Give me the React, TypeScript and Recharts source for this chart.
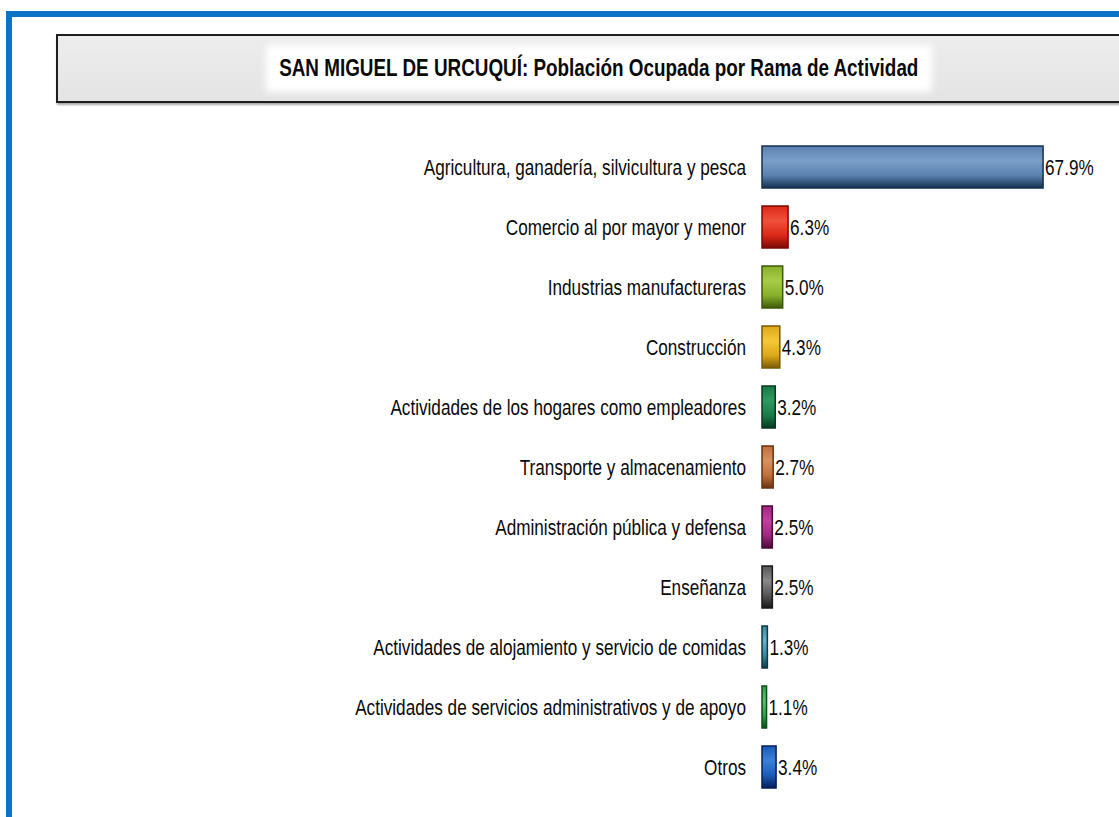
import { Bar, BarChart, Cell, LabelList, XAxis, YAxis } from "recharts"

const categories = [
  "Agricultura, ganadería, silvicultura y pesca",
  "Comercio al por mayor y menor",
  "Industrias manufactureras",
  "Construcción",
  "Actividades de los hogares como empleadores",
  "Transporte y almacenamiento",
  "Administración pública y defensa",
  "Enseñanza",
  "Actividades de alojamiento y servicio de comidas",
  "Actividades de servicios administrativos y de apoyo",
  "Otros",
]

const shares = [67.9, 6.3, 5.0, 4.3, 3.2, 2.7, 2.5, 2.5, 1.3, 1.1, 3.4]

// light, mid, dark for each bar's gradient
const barColors = [
  ["#7b9fc8", "#5a82b0", "#16304f"],
  ["#f0503a", "#dc2818", "#7a0a05"],
  ["#a8cc48", "#88b02a", "#3e5a0a"],
  ["#f5c838", "#dca81a", "#7a5a05"],
  ["#2e9a60", "#1a7a46", "#063a1e"],
  ["#d89060", "#c0703a", "#6a3210"],
  ["#c040a0", "#a02880", "#4a0a3a"],
  ["#8a8a8a", "#555555", "#1a1a1a"],
  ["#6ab0c8", "#3a88a0", "#0e3a4a"],
  ["#60c070", "#30a048", "#0a5018"],
  ["#3a80d8", "#1a5cb8", "#061e5a"],
]

const data = categories.map((name, i) => ({ name, value: shares[i] }))

const font = '"Liberation Sans", Arial, sans-serif'
const narrow = 0.78

const NarrowTick = (props: any) => {
  const { x, y, payload } = props
  return (
    <g transform={`translate(${x},${y}) scale(${narrow},1)`}>
      <text x={0} y={0} dy="0.36em" textAnchor="end" fill="#0a0a0a" fontSize={22} fontFamily={font}>
        {payload.value}
      </text>
    </g>
  )
}

const ValueLabel = (props: any) => {
  const { x, y, width, height, value } = props
  const tx = x + width + 2
  const ty = y + height / 2
  return (
    <g transform={`translate(${tx},${ty}) scale(${narrow},1)`}>
      <text x={0} y={0} dy="0.36em" textAnchor="start" fill="#0a0a0a" fontSize={22} fontFamily={font}>
        {`${Number(value).toFixed(1)}%`}
      </text>
    </g>
  )
}

export default function App() {
  return (
    <div
      style={{
        position: "absolute",
        left: 0,
        top: 0,
        width: 1119,
        height: 817,
        overflow: "hidden",
        background: "#fff",
      }}
    >
      <div
        style={{
          position: "absolute",
          left: 6,
          top: 11,
          width: 1200,
          height: 900,
          border: "6px solid #0b74c9",
          boxSizing: "border-box",
        }}
      />
      <div
        style={{
          position: "absolute",
          left: 56,
          top: 34,
          width: 1085,
          height: 69,
          border: "2px solid #1e1e1e",
          boxSizing: "border-box",
          background: "linear-gradient(#ededed, #e4e4e4)",
          boxShadow: "1px 2px 2px rgba(0,0,0,0.35)",
          display: "flex",
          alignItems: "center",
          justifyContent: "center",
          fontFamily: font,
          fontWeight: "bold",
          fontSize: 23,
          color: "#0a0a0a",
        }}
      >
        <span
          style={{
            background: "#fff",
            padding: "4px 10px",
            boxShadow: "0 0 8px 6px #fff",
            transform: "scaleX(0.82)",
            whiteSpace: "nowrap",
          }}
        >
          SAN MIGUEL DE URCUQUÍ: Población Ocupada por Rama de Actividad
        </span>
      </div>
      <div style={{ position: "absolute", left: 0, top: 0 }}>
        <BarChart
          width={1119}
          height={817}
          data={data}
          layout="vertical"
          margin={{ top: 137, right: 1, bottom: 20, left: 0 }}
        >
          <defs>
            {barColors.map((c, i) => (
              <linearGradient key={i} id={`bg${i}`} x1="0" y1="0" x2="0" y2="1">
                <stop offset="0%" stopColor={c[1]} />
                <stop offset="35%" stopColor={c[0]} />
                <stop offset="70%" stopColor={c[1]} />
                <stop offset="100%" stopColor={c[2]} />
              </linearGradient>
            ))}
          </defs>
          <XAxis type="number" domain={[0, 86]} hide />
          <YAxis
            type="category"
            dataKey="name"
            width={762}
            tickLine={false}
            axisLine={false}
            tickSize={0}
            tickMargin={16}
            interval={0}
            tick={<NarrowTick />}
          />
          <Bar dataKey="value" barSize={42} isAnimationActive={false}>
            {data.map((d, i) => (
              <Cell key={d.name} fill={`url(#bg${i})`} stroke={barColors[i][2]} strokeWidth={1.5} />
            ))}
            <LabelList dataKey="value" content={<ValueLabel />} />
          </Bar>
        </BarChart>
      </div>
    </div>
  )
}
